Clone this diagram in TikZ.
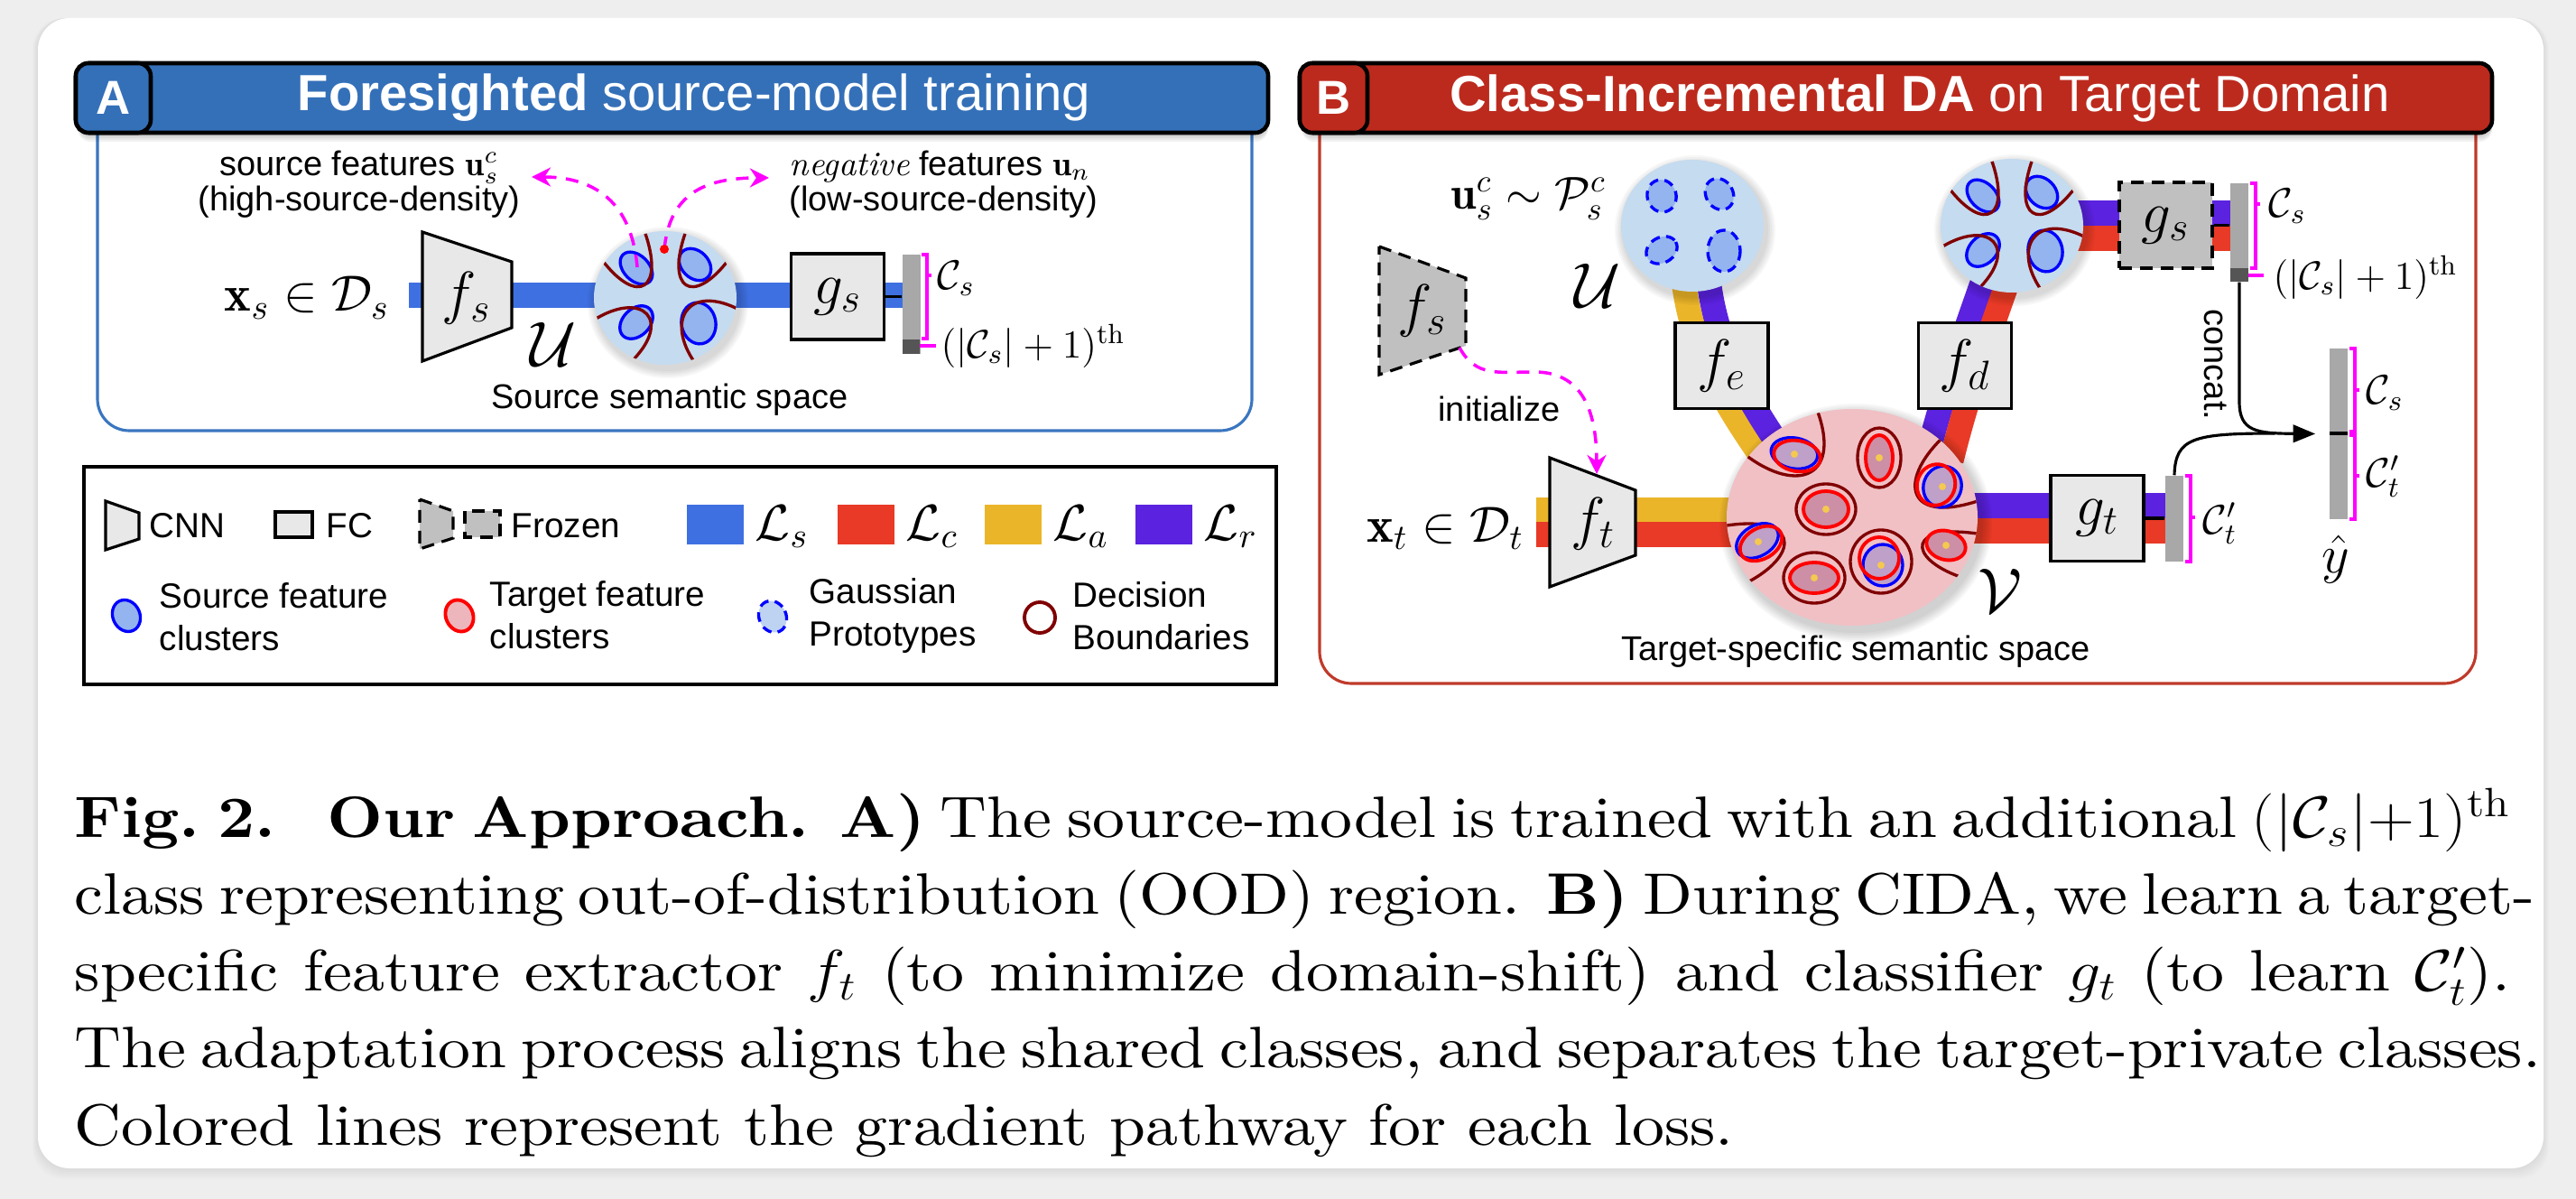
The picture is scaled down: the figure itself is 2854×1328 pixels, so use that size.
\RequirePackage{fix-cm}
\documentclass[tikz,border=0pt]{standalone}
\usepackage{fontspec}
\newfontfamily\sff{Liberation Sans}
\newfontfamily\capfont{lmroman10-regular.otf}[BoldFont=lmroman10-bold.otf, ItalicFont=lmroman10-italic.otf]
\usetikzlibrary{arrows.meta}

% colours
\definecolor{pagegray}{RGB}{238,238,238}
\definecolor{hdrblue}{RGB}{52,112,184}
\definecolor{hdrred}{RGB}{188,42,30}
\definecolor{frameblue}{RGB}{58,118,192}
\definecolor{framered}{RGB}{192,58,42}
\definecolor{lossS}{RGB}{62,112,225}
\definecolor{lossC}{RGB}{232,58,38}
\definecolor{lossA}{RGB}{235,181,42}
\definecolor{lossR}{RGB}{91,34,223}
\definecolor{spaceU}{RGB}{197,219,239}
\definecolor{spaceVc}{RGB}{240,192,196}
\definecolor{clusS}{RGB}{147,180,238}
\definecolor{clusT}{RGB}{204,143,165}
\definecolor{clusST}{RGB}{190,160,200}
\definecolor{bound}{RGB}{128,0,0}
\definecolor{boxgray}{RGB}{232,232,232}
\definecolor{frzgray}{RGB}{192,192,192}
\definecolor{bargray}{RGB}{168,168,168}
\definecolor{bardark}{RGB}{85,85,85}
\definecolor{brace}{RGB}{255,0,255}
\definecolor{dotyel}{RGB}{245,200,80}
\definecolor{legT}{RGB}{236,182,188}
\definecolor{legG}{RGB}{190,210,242}

\pgfdeclarelayer{back}
\pgfdeclarelayer{pipes}
\pgfsetlayers{back,pipes,main}

\tikzset{
  hdr/.style={draw=black, line width=1.3pt, rounded corners=4pt},
  hdrtext/.style={text=white, inner sep=0pt, font={\sff\fontsize{16pt}{16pt}\selectfont}},
  anno/.style={inner sep=0pt, font={\sff\fontsize{10.8pt}{11.2pt}\selectfont}},
  legtext/.style={inner sep=0pt, anchor=west, align=left, font={\sff\fontsize{11pt}{13.4pt}\selectfont}},
  fcbox/.style={draw=black, line width=0.9pt, fill=boxgray, inner sep=0pt, minimum width=1.03cm, minimum height=0.95cm},
  frozenbox/.style={fcbox, fill=frzgray, dash pattern=on 4pt off 2.5pt},
  cnn/.style={draw=black, line width=0.9pt, fill=boxgray},
  frozencnn/.style={cnn, fill=frzgray, dash pattern=on 4pt off 2.5pt},
  outbar/.style={fill=bargray, inner sep=0pt, minimum width=0.2cm},
  pipe/.style={line width=7.7pt},
  brk/.style={draw=brace, line width=1pt},
  guide/.style={draw=brace, line width=1pt, dash pattern=on 4pt off 3pt, -{Stealth[length=6pt, width=6pt]}},
  bnd/.style={draw=bound, line width=0.95pt},
  srcclus/.style={draw=blue, line width=0.95pt, fill=clusS},
  protoclus/.style={srcclus, dash pattern=on 3pt off 2pt},
  tgtclus/.style={draw=red, line width=1.1pt},
  catline/.style={draw=black, line width=0.9pt},
}

\newcommand\msz[2]{{\fontsize{#1}{#1}\selectfont$#2$}}
% one justified caption line
\newcommand\capline[1]{\hbox to 24.3cm{#1}}
% class bracket: x, top, bottom, tick
\newcommand\clsbrace[4]{%
  \draw[brk] (#1,#2) -- ++(6,0) -- (#1+6,#3) -- ++(-6,0);
  \draw[brk] (#1+6,#4) -- ++(5,0);}
% source semantic space with four clusters and their boundaries
\newcommand\srcspace[1]{%
  \begin{scope}[shift={(#1)}]
    \foreach \k in {1,...,5}
      \fill[black, opacity=0.03] (3,5) ellipse[x radius=79+2*\k, y radius=74+2*\k];
    \fill[spaceU] (0,0) ellipse[x radius=79, y radius=74];
    \foreach \cx/\cy/\rx/\ry/\ang in {-32/-33/21/14/-45, 33/-37/20/15/-45, -32/27/21/15/45, 37/28/19/23/10}
      \draw[srcclus, rotate around={\ang:(\cx,\cy)}] (\cx,\cy) ellipse[x radius=\rx, y radius=\ry];
    \begin{scope}
      \clip (0,0) ellipse[x radius=79, y radius=74];
      \draw[bnd] (-70,-42) .. controls (-30,10) and (0,-10) .. (-23,-74);
      \draw[bnd] (70,-42) .. controls (30,10) and (0,-10) .. (23,-74);
      \draw[bnd] (-80,25) .. controls (-25,-10) and (10,25) .. (-39,72);
      \draw[bnd] (80,12) .. controls (25,-15) and (0,25) .. (33,72);
    \end{scope}
  \end{scope}}

\begin{document}
\begin{tikzpicture}[x=0.01cm, y=-0.01cm]
\useasboundingbox (0,0) rectangle (2854,1328);

\begin{pgfonlayer}{back}
  \fill[pagegray] (0,0) rectangle (2854,1328);
  \foreach \k in {1,...,6}
    \fill[black, opacity=0.012, rounded corners=10pt] (42-\k,20) rectangle (2818+\k,1294+2*\k);
  \fill[white, rounded corners=10pt] (42,20) rectangle (2818,1294);
\end{pgfonlayer}

% ---------------- A: source-model training ----------------
\draw[frameblue, line width=0.9pt, rounded corners=10pt] (108,140) -- (108,477) -- (1387,477) -- (1387,140);
\foreach \k in {1,...,5}
  \fill[black, opacity=0.05, rounded corners=4pt] (86,74+2*\k) rectangle (1405,147+2*\k);
\draw[hdr, fill=hdrblue] (84,70) rectangle (1405,147);
\draw[hdr, fill=hdrblue] (84,70) rectangle (167,147);
\node[hdrtext, font={\sff\bfseries\fontsize{15pt}{15pt}\selectfont}] (labA) at (125.5,108.5) {A};
\node[hdrtext] (titA) at (769,108.5) {\textbf{Foresighted} source-model training};

\node[anno, align=center] (srcfeat) at (398,204) {source features $\mathbf{u}^c_s$\\(high-source-density)};
\node[anno, align=left, anchor=west] (negfeat) at (874,204) {{\rmfamily\itshape negative} features $\mathbf{u}_n$\\(low-source-density)};

\node[anchor=east, inner sep=0pt] (xsA) at (432,330) {\msz{16pt}{\mathbf{x}_s \in \mathcal{D}_s}};
\draw[cnn] (468,257) -- (567,290) -- (567,363) -- (468,400) -- cycle;
\node (fsA) at (517,330) {\msz{18.5pt}{f_s}};
\node (calUA) at (613,381) {\msz{20pt}{\mathcal{U}}};
\coordinate (spaceA) at (737,330);
\srcspace{spaceA}
\node[fcbox] (gsA) at (928,328.5) {\msz{18.5pt}{g_s}};
\node[outbar, minimum height=1.1cm] (barA) at (1009.5,337) {};
\fill[bardark] (1000,376) rectangle (1019,392);
\clsbrace{1021}{282}{375}{305}
\draw[brk] (1019,383) -- (1037,383);
\node[anchor=west, inner sep=0pt] (csA) at (1038,308) {\msz{13pt}{\mathcal{C}_s}};
\node[anchor=west, inner sep=0pt] (oodA) at (1042,383) {\msz{12.5pt}{(|\mathcal{C}_s|+1)^{\mathrm{th}}}};
\node[anno] (semA) at (742,443) {Source semantic space};
\draw[catline] (gsA.east) -- (barA.west |- gsA.east);

% picking features in the source space
\coordinate (srcpt) at (706,296);
\coordinate (srctip) at (589,196);
\coordinate (negpt) at (736,276);
\coordinate (negtip) at (852,197);
\draw[guide] (srcpt) .. controls (700,225) and (660,196) .. (srctip);
\draw[guide] (negpt) .. controls (742,215) and (780,197) .. (negtip);
\fill[red] (negpt) circle[radius=5];

% ---------------- B: CIDA on target ----------------
\draw[framered, line width=0.9pt, rounded corners=10pt] (1462,140) -- (1462,757) -- (2743,757) -- (2743,140);
\foreach \k in {1,...,5}
  \fill[black, opacity=0.05, rounded corners=4pt] (1442,74+2*\k) rectangle (2761,147+2*\k);
\draw[hdr, fill=hdrred] (1440,70) rectangle (2761,147);
\draw[hdr, fill=hdrred] (1440,70) rectangle (1515,147);
\node[hdrtext, font={\sff\bfseries\fontsize{15pt}{15pt}\selectfont}] (labB) at (1477.5,108.5) {B};
\node[hdrtext] (titB) at (2127,108.5) {\textbf{Class-Incremental DA} on Target Domain};

% prototypes
\node[anchor=east, inner sep=0pt] (protoLab) at (1780,220) {\msz{14.5pt}{\mathbf{u}^c_s \sim \mathcal{P}^c_s}};
\coordinate (protoB) at (1875,250);
\begin{scope}[shift={(protoB)}]
  \foreach \k in {1,...,5}
    \fill[black, opacity=0.03] (3,5) ellipse[x radius=79+2*\k, y radius=73+2*\k];
  \fill[spaceU] (0,0) ellipse[x radius=79, y radius=73];
  \foreach \cx/\cy/\rx/\ry/\ang in {-34/-33/16/18/15, 30/-35/15/18/30, -34/27/18/14/30, 35/28/18/23/0}
    \draw[protoclus, rotate around={\ang:(\cx,\cy)}] (\cx,\cy) ellipse[x radius=\rx, y radius=\ry];
\end{scope}
\node (calUB) at (1770,316) {\msz{20pt}{\mathcal{U}}};

% frozen source extractor
\draw[frozencnn] (1528,273) -- (1624,308) -- (1624,383) -- (1528,415) -- cycle;
\node (fsB) at (1576,344) {\msz{18.5pt}{f_s}};
\coordinate (fsCorner) at (1617,385);
\node[anno] (init) at (1661,453) {initialize};

\node[fcbox] (fe) at (1907.5,405) {\msz{18.5pt}{f_e}};
\node[fcbox] (fd) at (2177,405) {\msz{18.5pt}{f_d}};

% decoded source space and frozen classifier
\coordinate (decB) at (2229,250);
\srcspace{decB}
\node[frozenbox] (gsB) at (2399.5,249.5) {\msz{18.5pt}{g_s}};
\node[outbar, minimum height=1.09cm] (barS) at (2481,257.5) {};
\fill[bardark] (2471,297) rectangle (2491,312);
\clsbrace{2493}{203}{297}{226}
\draw[brk] (2491,305) -- (2508,305);
\node[anchor=west, inner sep=0pt] (csB) at (2513,228) {\msz{13pt}{\mathcal{C}_s}};
\node[anchor=west, inner sep=0pt] (oodB) at (2518,307) {\msz{12.5pt}{(|\mathcal{C}_s|+1)^{\mathrm{th}}}};
\draw[catline] (gsB.east) -- (barS.west |- gsB.east);

% target branch
\node[anchor=east, inner sep=0pt] (xtB) at (1689,585) {\msz{16pt}{\mathbf{x}_t \in \mathcal{D}_t}};
\draw[cnn] (1717,507) -- (1812,543) -- (1812,615) -- (1717,650) -- cycle;
\node (ftB) at (1765,580) {\msz{18.5pt}{f_t}};
\coordinate (ftTop) at (1769,525);
\draw[guide] (fsCorner) .. controls (1635,418) and (1660,412) .. (1700,412) .. controls (1750,412) and (1769,450) .. (ftTop);

% target-specific space
\coordinate (spaceV) at (2052,573);
\begin{scope}[shift={(spaceV)}]
  \foreach \k in {1,...,6}
    \fill[black, opacity=0.03] (4,6) ellipse[x radius=139+2*\k, y radius=120+2*\k];
  \fill[spaceVc] (0,0) ellipse[x radius=139, y radius=120];
  \begin{scope}
    \clip (0,0) ellipse[x radius=139, y radius=120];
    \draw[bnd] (-118,-69) .. controls (-60,-25) and (-10,-45) .. (-40,-122);
    \draw[bnd] (100,-88) .. controls (50,-40) and (60,10) .. (145,-20);
    \draw[bnd] (-145,10) .. controls (-60,-5) and (-55,40) .. (-116,72);
    \draw[bnd] (145,19) .. controls (60,5) and (60,45) .. (120,66);
  \end{scope}
  % target-private classes
  \foreach \cx/\cy/\rx/\ry/\ox/\oy in {30/-66/15/25/24/33, -29/-9/25/20/33/28, -42/67/27/17/34/28} {
    \draw[bnd] (\cx,\cy) ellipse[x radius=\ox, y radius=\oy];
    \draw[tgtclus, fill=clusT] (\cx,\cy) ellipse[x radius=\rx, y radius=\ry];
  }
  \draw[tgtclus, fill=clusT, rotate around={-15:(104,31)}] (104,31) ellipse[x radius=22, y radius=16];
  % shared classes
  \draw[bnd] (32,49) ellipse[x radius=34, y radius=35];
  \foreach \sx/\sy/\tx/\ty/\rx/\ry/\ang in {-64/-71/-61/-68/26/17/-10, 100/-34/93/-36/21/23/-20, -105/26/-101/29/25/17/30, 34/53/30/45/22/23/0} {
    \draw[srcclus, fill=clusST, rotate around={\ang:(\sx,\sy)}] (\sx,\sy) ellipse[x radius=\rx, y radius=\ry];
    \draw[tgtclus, rotate around={\ang:(\tx,\ty)}] (\tx,\ty) ellipse[x radius=\rx, y radius=\ry];
  }
  \foreach \dx/\dy in {-64/-70, 30/-66, -29/-9, 100/-34, -104/27, -42/67, 32/53, 104/31}
    \fill[dotyel] (\dx,\dy) circle[radius=4];
\end{scope}
\node (calV) at (2216,654) {\msz{20pt}{\mathcal{V}}};
\node[anno] (semV) at (2056,722) {Target-specific semantic space};

\node[fcbox] (gt) at (2323.5,574) {\msz{18.5pt}{g_t}};
\node[outbar, minimum height=0.95cm] (barT) at (2409,574.5) {};
\clsbrace{2421}{527}{622}{573}
\node[anchor=west, inner sep=0pt] (ctB) at (2440,580) {\msz{13pt}{\mathcal{C}'_t}};
\draw[catline] (gt.east) -- (barT.west |- gt.east);

% concatenated prediction
\node[outbar, minimum height=1.89cm] (ybar) at (2591,480.5) {};
\draw[line width=1pt] (2581,480) -- (2601,480);
\clsbrace{2603}{386}{478}{432}
\clsbrace{2603}{482}{575}{527}
\node[anchor=west, inner sep=0pt] (csY) at (2621,435) {\msz{13pt}{\mathcal{C}_s}};
\node[anchor=west, inner sep=0pt] (ctY) at (2621,528) {\msz{13pt}{\mathcal{C}'_t}};
\node (yhat) at (2588,620) {\msz{17pt}{\hat{y}}};
\node[anno, rotate=-90] (concat) at (2455,404) {concat.};
\draw[catline, -{Triangle[length=7pt, width=5.5pt]}] (barS.south) -- (2481,445) .. controls (2481,478) and (2500,480) .. ([xshift=-4.3pt]ybar.west);
\draw[catline] (barT.north) .. controls (2410,485) and (2430,480) .. (2520,480);

% gradient pathways
\begin{pgfonlayer}{pipes}
  \draw[pipe, lossS, line width=8.2pt] (453,327) -- (1000,327);
  \draw[pipe, lossA] (1702,565) -- (2010,565);
  \draw[pipe, lossC] (1702,592) -- (2010,592);
  \draw[pipe, lossR] (2100,560) -- (2399,560);
  \draw[pipe, lossC] (2100,588) -- (2399,588);
  \draw[pipe, lossA] (1864,300) .. controls (1871,380) and (1906,440) .. (1951,505);
  \draw[pipe, lossR] (1892,300) .. controls (1899,380) and (1934,440) .. (1979,505);
  \draw[pipe, lossR] (2134,510) .. controls (2156,420) and (2191,330) .. (2211,270);
  \draw[pipe, lossC] (2162,510) .. controls (2184,420) and (2219,330) .. (2239,270);
  \draw[pipe, lossR] (2229,236) -- (2471,236);
  \draw[pipe, lossC] (2229,264) -- (2471,264);
\end{pgfonlayer}

% ---------------- legend ----------------
\draw[line width=1pt] (93,517) rectangle (1414,758);
\draw[cnn] (117,555) -- (154,568) -- (154,597) -- (117,609) -- cycle;
\node[legtext] (legCNN) at (165,582) {CNN};
\draw[cnn] (305,567) rectangle (346,595);
\node[legtext] (legFC) at (361,582) {FC};
\draw[frozencnn] (465,553) -- (502,566) -- (502,596) -- (465,608) -- cycle;
\draw[frozencnn] (515,566) rectangle (554,595);
\node[legtext] (legFrz) at (566,582) {Frozen};
\foreach \col/\x/\lsub in {lossS/761/s, lossC/928/c, lossA/1091/a, lossR/1258/r} {
  \fill[\col] (\x,559) rectangle ++(63,44);
  \node[anchor=west, inner sep=0pt] (leg\lsub) at (\x+75,583) {\msz{16pt}{\mathcal{L}_\lsub}};
}
\draw[srcclus, rotate around={25:(140,682)}] (140,682) ellipse[x radius=15, y radius=18];
\node[legtext] (legSrc) at (176,683) {Source feature\\clusters};
\draw[tgtclus, fill=legT, rotate around={25:(509,682)}] (509,682) ellipse[x radius=15, y radius=18];
\node[legtext] (legTgt) at (542,681) {Target feature\\clusters};
\draw[protoclus, fill=legG, rotate around={25:(856,683)}] (856,683) ellipse[x radius=15, y radius=18];
\node[legtext] (legGau) at (896,682) {Gaussian\\Prototypes};
\draw[bnd, line width=1.1pt] (1152,684) circle[radius=17];
\node[legtext] (legDec) at (1188,682) {Decision\\Boundaries};

% ---------------- caption (set wide, as in the paper) ----------------
\begin{scope}[shift={(82,872)}, xscale=1.11]
\node[anchor=north west, inner sep=0pt, transform shape,
      font={\capfont\fontsize{18.4pt}{24.2pt}\selectfont}] (caption) at (0,0)
  {\vbox{%
   \capline{\textbf{Fig.~2.}\hspace{0.8em}\textbf{Our Approach. A)} The source-model is trained with an additional $(|\mathcal{C}_s|{+}1)^{\mathrm{th}}$}
   \capline{class representing out-of-distribution (OOD) region. \textbf{B)} During CIDA, we learn a target-}
   \capline{specific feature extractor $f_t$ (to minimize domain-shift) and classifier $g_t$ (to learn $\mathcal{C}'_t$).}
   \capline{The adaptation process aligns the shared classes, and separates the target-private classes.}
   \hbox{Colored lines represent the gradient pathway for each loss.}}};
\end{scope}
\end{tikzpicture}
\end{document}
